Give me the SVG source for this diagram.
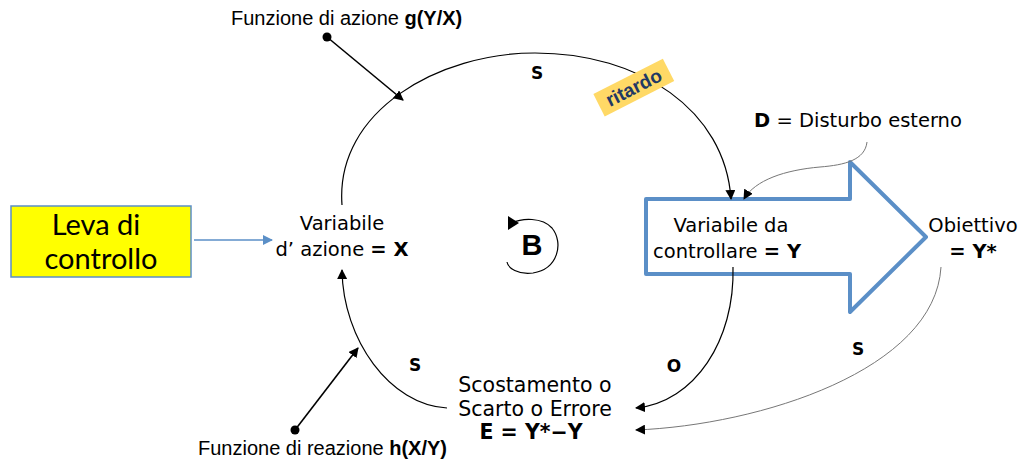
<svg xmlns="http://www.w3.org/2000/svg" width="1023" height="463" viewBox="0 0 1023 463">
<style>
.v{font-family:"DejaVu Sans",Verdana,sans-serif;font-size:19.5px;fill:#000}
.e{font-family:"DejaVu Sans",Verdana,sans-serif;font-size:20.5px;fill:#000}
.a{font-family:"Liberation Sans",Arial,sans-serif;font-size:20px;fill:#000}
.s{font-family:"DejaVu Sans",Verdana,sans-serif;font-size:17px;font-weight:bold;fill:#000}
.b{font-weight:bold}
.ln{fill:none;stroke:#000;stroke-width:1.2}
.gr{fill:none;stroke:#777;stroke-width:1}
</style>
<defs>
<marker id="ah" viewBox="0 0 10 10" refX="9" refY="5" markerWidth="10" markerHeight="10" markerUnits="userSpaceOnUse" orient="auto"><path d="M0,0L10,5L0,10z" fill="#000"/></marker>
<marker id="ahb" viewBox="0 0 10 10" refX="9" refY="5" markerWidth="10" markerHeight="10" markerUnits="userSpaceOnUse" orient="auto"><path d="M0,0L10,5L0,10z" fill="#5B8FC7"/></marker>
</defs>
<g id="bigarrow">
<path d="M646,199 L850,199 L850,162 L926,237 L850,312 L850,274 L646,274 Z" fill="#fff" stroke="#5B8FC7" stroke-width="4" stroke-linejoin="round"/>
</g>
<g id="connectors">
<path class="ln" d="M342,205 C335,110 440,53 535,53 C640,53 725,110 731,199" marker-end="url(#ah)"/>
<path class="ln" d="M447,408 C390,405 343,340 342,270" marker-end="url(#ah)"/>
<path class="ln" d="M733,267 C735,340 695,402 636,408" marker-end="url(#ah)"/>
<path class="gr" d="M941,267 C935,370 760,425 636,430" marker-end="url(#ah)"/>
<path class="gr" d="M867,142 C865,160 845,165 820,167 C785,170 755,180 744,199" marker-end="url(#ah)"/>
<line x1="194" y1="240" x2="272" y2="240" stroke="#5B8FC7" stroke-width="1.5" marker-end="url(#ahb)"/>
<line x1="327" y1="37" x2="403" y2="100" stroke="#000" stroke-width="1.6" marker-end="url(#ah)"/>
<line x1="295" y1="430" x2="358" y2="348" stroke="#000" stroke-width="1.6" marker-end="url(#ah)"/>
<circle cx="327" cy="37" r="4.5" fill="#000"/>
<circle cx="295" cy="430" r="4.5" fill="#000"/>
</g>
<g id="leva">
<rect x="11" y="206" width="180" height="71" fill="#FFFF00" stroke="#5B8FC7" stroke-width="1.5"/>
<text x="96" y="235" text-anchor="middle" font-family="Lato, sans-serif" font-size="29">Leva di</text>
<text x="101" y="269" text-anchor="middle" font-family="Lato, sans-serif" font-size="29">controllo</text>
</g>
<g id="varX">
<text class="v" x="342" y="230" text-anchor="middle">Variabile</text>
<text class="v" x="342" y="256" text-anchor="middle">d’ azione <tspan class="b">= X</tspan></text>
</g>
<g id="varY">
<text class="v" x="731" y="232" text-anchor="middle">Variabile da</text>
<text class="v" x="727" y="258" text-anchor="middle">controllare <tspan class="b">= Y</tspan></text>
</g>
<g id="obiettivo">
<text class="v" x="973" y="232" text-anchor="middle">Obiettivo</text>
<text class="v b" x="973" y="258" text-anchor="middle">= Y*</text>
</g>
<g id="disturbo">
<text class="v" x="858" y="127" text-anchor="middle"><tspan class="b">D</tspan> = Disturbo esterno</text>
</g>
<g id="errore">
<text class="e" x="535" y="392" text-anchor="middle">Scostamento o</text>
<text class="e" x="535" y="416" text-anchor="middle">Scarto o Errore</text>
<text class="e b" x="531" y="439" text-anchor="middle">E = Y*−Y</text>
</g>
<g id="loopB">
<path class="ln" d="M512,223 C522,218 542,217 552,228 C564,243 558,269 533,273 C518,275 508,268 507,262"/>
<path d="M508,216 L519,223 L508,230 Z" fill="#000"/>
<text x="532" y="255" text-anchor="middle" font-family="Liberation Sans, Arial, sans-serif" font-size="29" font-weight="bold">B</text>
</g>
<g id="labels">
<text class="a" x="231" y="25">Funzione di azione <tspan class="b">g(Y/X)</tspan></text>
<text class="a" x="198" y="455">Funzione di reazione <tspan class="b">h(X/Y)</tspan></text>
<text class="s" x="537" y="79" text-anchor="middle">S</text>
<text class="s" x="415" y="371" text-anchor="middle">S</text>
<text class="s" x="674" y="372" text-anchor="middle">O</text>
<text class="s" x="858" y="355" text-anchor="middle">S</text>
<g transform="translate(634,88) rotate(-27)">
<rect x="-39" y="-13" width="78" height="25" fill="#FFD966"/>
<text x="0" y="6" text-anchor="middle" font-family="Liberation Sans, Arial, sans-serif" font-size="19" font-weight="bold" fill="#1F3864">ritardo</text>
</g>
</g>
</svg>
